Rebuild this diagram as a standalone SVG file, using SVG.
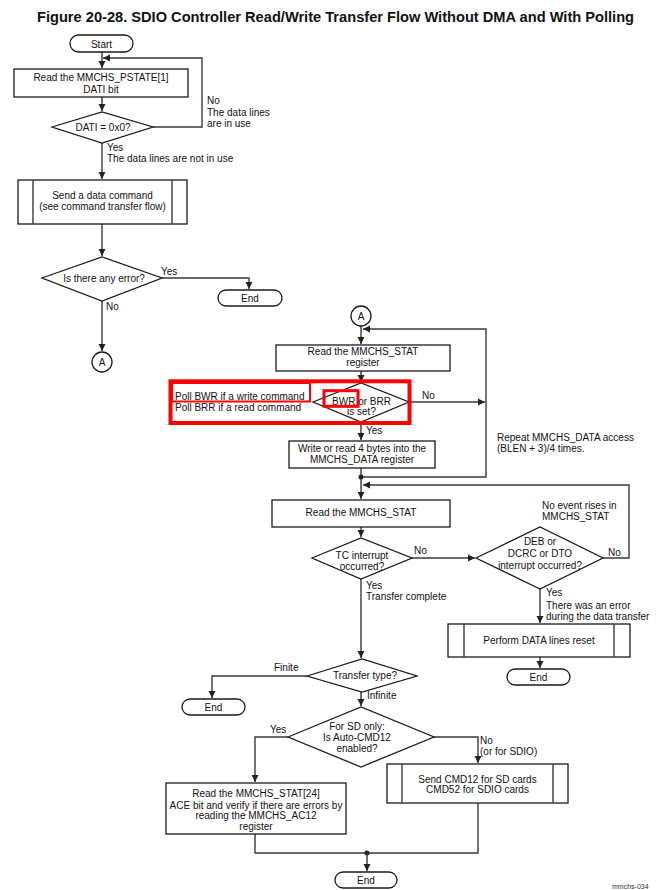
<svg xmlns="http://www.w3.org/2000/svg" width="669" height="890" viewBox="0 0 669 890">
<style>
.bx{fill:#fff;stroke:#1a1a1a;stroke-width:1.3}
.ln{fill:none;stroke:#3a3a3a;stroke-width:1.4}
.t{font-family:"Liberation Sans",Arial,sans-serif;font-size:10px;fill:#111}
.m{text-anchor:middle}
.red{fill:none;stroke:#ff0000}
.dot{fill:#222}
</style>
<defs>
<marker id="ar" markerWidth="8" markerHeight="8" refX="7" refY="4" orient="auto" markerUnits="userSpaceOnUse">
<path d="M0,0.5 L7,4 L0,7.5 z" fill="#222"/>
</marker>
</defs>
<rect width="669" height="890" fill="#fff"/>
<text x="37" y="22" font-family="Liberation Sans,Arial,sans-serif" font-size="14" font-weight="bold" fill="#111" textLength="597" lengthAdjust="spacingAndGlyphs">Figure 20-28. SDIO Controller Read/Write Transfer Flow Without DMA and With Polling</text>

<g id="connectors">
<path class="ln" d="M102,52 V68" marker-end="url(#ar)"/>
<path class="ln" d="M153,127 H202 V58 H103" marker-end="url(#ar)"/>
<path class="ln" d="M102,97 V111" marker-end="url(#ar)"/>
<path class="ln" d="M102,143 V179" marker-end="url(#ar)"/>
<path class="ln" d="M102,224 V256" marker-end="url(#ar)"/>
<path class="ln" d="M162,278 H249 V289" marker-end="url(#ar)"/>
<path class="ln" d="M102,301 V351" marker-end="url(#ar)"/>
<path class="ln" d="M361,326 V344" marker-end="url(#ar)"/>
<path class="ln" d="M361,477 H486 V329 H363" marker-end="url(#ar)"/>
<path class="ln" d="M361,371 V382" marker-end="url(#ar)"/>
<path class="ln" d="M409,402 H485" marker-end="url(#ar)"/>
<path class="ln" d="M361,422 V440" marker-end="url(#ar)"/>
<path class="ln" d="M361,468 V499" marker-end="url(#ar)"/>
<circle class="dot" cx="361" cy="477" r="2.5"/>
<path class="ln" d="M603,558 H629 V485 H363" marker-end="url(#ar)"/>
<path class="ln" d="M361,527 V537" marker-end="url(#ar)"/>
<path class="ln" d="M412,558 H475" marker-end="url(#ar)"/>
<path class="ln" d="M540,589 V623" marker-end="url(#ar)"/>
<path class="ln" d="M540,657 V668" marker-end="url(#ar)"/>
<path class="ln" d="M361,579 V658" marker-end="url(#ar)"/>
<path class="ln" d="M307,676 H212 V698" marker-end="url(#ar)"/>
<path class="ln" d="M361,692 V706" marker-end="url(#ar)"/>
<path class="ln" d="M288,737 H255 V782" marker-end="url(#ar)"/>
<path class="ln" d="M434,737 H478 V763" marker-end="url(#ar)"/>
<path class="ln" d="M255,834 V853 H478 V803"/>
<circle class="dot" cx="367" cy="853" r="2.5"/>
<path class="ln" d="M367,853 V871" marker-end="url(#ar)"/>
</g>

<g id="start">
<rect class="bx" x="70" y="35" width="63" height="17" rx="8.5"/>
<text class="t m" x="101.5" y="47.5">Start</text>
</g>
<g id="read-pstate">
<rect class="bx" x="14" y="69" width="174" height="28"/>
<text class="t m" x="101" y="81">Read the MMCHS_PSTATE[1]</text>
<text class="t m" x="101" y="93">DATI bit</text>
</g>
<g id="dati-decision">
<polygon class="bx" points="52,127 102,112 153,127 102,143"/>
<text class="t m" x="103" y="131">DATI = 0x0?</text>
<text class="t" x="207" y="104">No</text>
<text class="t" x="207" y="115.5">The data lines</text>
<text class="t" x="207" y="126.5">are in use</text>
<text class="t" x="107" y="151">Yes</text>
<text class="t" x="107" y="161.5">The data lines are not in use</text>
</g>
<g id="send-data-cmd">
<rect class="bx" x="18" y="180" width="169" height="44"/>
<path class="ln" d="M33,180 V224 M172,180 V224" stroke="#1a1a1a"/>
<text class="t m" x="102.5" y="199">Send a data command</text>
<text class="t m" x="102.5" y="209.5">(see command transfer flow)</text>
</g>
<g id="error-decision">
<polygon class="bx" points="42,278 102,257 162,278 102,301"/>
<text class="t m" x="104" y="281.5">Is there any error?</text>
<text class="t" x="161" y="274.5">Yes</text>
<text class="t" x="106" y="309.5">No</text>
</g>
<g id="end1">
<rect class="bx" x="218" y="290" width="64" height="16" rx="8"/>
<text class="t m" x="250" y="301.5">End</text>
</g>
<g id="conn-a-out">
<circle class="bx" cx="102" cy="362" r="10"/>
<text class="t m" x="102" y="366">A</text>
</g>
<g id="conn-a-in">
<circle class="bx" cx="361" cy="316" r="10"/>
<text class="t m" x="361" y="320">A</text>
</g>
<g id="read-stat1">
<rect class="bx" x="276" y="345" width="174" height="26"/>
<text class="t m" x="363" y="355">Read the MMCHS_STAT</text>
<text class="t m" x="363" y="366">register</text>
</g>
<g id="bwr-decision">
<polygon class="bx" points="313,402 361,383 409,402 361,422"/>
<text class="t m" x="361.5" y="404.5">BWR or BRR</text>
<text class="t m" x="361.5" y="415">is set?</text>
<text class="t" x="422" y="398.5">No</text>
<text class="t" x="366" y="433.5">Yes</text>
<text class="t" x="175" y="399.5">Poll BWR if a write command</text>
<text class="t" x="175" y="410.5">Poll BRR if a read command</text>
</g>
<g id="highlight">
<rect class="red" x="170.5" y="381.3" width="239" height="41.7" stroke-width="4"/>
<rect class="red" x="172" y="383" width="138" height="18.5" stroke-width="2"/>
<rect class="red" x="324" y="390.7" width="34" height="15.6" stroke-width="3"/>
</g>
<g id="write-read-data">
<rect class="bx" x="289" y="441" width="146" height="27"/>
<text class="t m" x="362" y="452">Write or read 4 bytes into the</text>
<text class="t m" x="362" y="462.5">MMCHS_DATA register</text>
</g>
<g id="repeat-note">
<text class="t" x="497" y="441">Repeat MMCHS_DATA access</text>
<text class="t" x="497" y="452">(BLEN + 3)/4 times.</text>
</g>
<g id="read-stat2">
<rect class="bx" x="272" y="500" width="178" height="27"/>
<text class="t m" x="361" y="516">Read the MMCHS_STAT</text>
</g>
<g id="tc-decision">
<polygon class="bx" points="312,558 361,538 412,558 361,579"/>
<text class="t m" x="362" y="558.5">TC interrupt</text>
<text class="t m" x="362" y="570">occurred?</text>
<text class="t" x="414" y="553.5">No</text>
<text class="t" x="366" y="588.5">Yes</text>
<text class="t" x="366" y="600">Transfer complete</text>
</g>
<g id="err-int-decision">
<polygon class="bx" points="476,558 540,527 603,558 540,589"/>
<text class="t m" x="540" y="545">DEB or</text>
<text class="t m" x="540" y="556.5">DCRC or DTO</text>
<text class="t m" x="540" y="568.5">interrupt occurred?</text>
<text class="t" x="542" y="508.5">No event rises in</text>
<text class="t" x="542" y="519.5">MMCHS_STAT</text>
<text class="t" x="608" y="556">No</text>
<text class="t" x="546" y="596">Yes</text>
<text class="t" x="546" y="608.5">There was an error</text>
<text class="t" x="546" y="619.5">during the data transfer</text>
</g>
<g id="data-reset">
<rect class="bx" x="448" y="624" width="182" height="33"/>
<path class="ln" d="M464,624 V657 M614,624 V657" stroke="#1a1a1a"/>
<text class="t m" x="539" y="644">Perform DATA lines reset</text>
</g>
<g id="end2">
<rect class="bx" x="507" y="669" width="63" height="16" rx="8"/>
<text class="t m" x="538.5" y="680.5">End</text>
</g>
<g id="transfer-type">
<polygon class="bx" points="307,676 362,659 417,676 362,692"/>
<text class="t m" x="365" y="678.5">Transfer type?</text>
<text class="t" x="274" y="670.5">Finite</text>
<text class="t" x="367" y="698.5">Infinite</text>
</g>
<g id="end3">
<rect class="bx" x="182" y="699" width="63" height="16" rx="8"/>
<text class="t m" x="213.5" y="710.5">End</text>
</g>
<g id="autocmd-decision">
<polygon class="bx" points="288,737 361,707 434,737 361,767"/>
<text class="t m" x="357" y="730">For SD only:</text>
<text class="t m" x="357" y="741">Is Auto-CMD12</text>
<text class="t m" x="357" y="752">enabled?</text>
<text class="t" x="270" y="732.5">Yes</text>
<text class="t" x="480" y="743.5">No</text>
<text class="t" x="480" y="755">(or for SDIO)</text>
</g>
<g id="read-ace">
<rect class="bx" x="166" y="783" width="180" height="51"/>
<text class="t m" x="256" y="797">Read the MMCHS_STAT[24]</text>
<text class="t m" x="256" y="808.5">ACE bit and verify if there are errors by</text>
<text class="t m" x="256" y="819">reading the MMCHS_AC12</text>
<text class="t m" x="256" y="830">register</text>
</g>
<g id="send-cmd12">
<rect class="bx" x="387" y="764" width="181" height="39"/>
<path class="ln" d="M402,764 V803 M553,764 V803" stroke="#1a1a1a"/>
<text class="t m" x="477.5" y="782.5">Send CMD12 for SD cards</text>
<text class="t m" x="477.5" y="793">CMD52 for SDIO cards</text>
</g>
<g id="end4">
<rect class="bx" x="335" y="872" width="62" height="16" rx="8"/>
<text class="t m" x="366" y="883.5">End</text>
</g>
<text x="612" y="888.5" font-family="Liberation Sans,Arial,sans-serif" font-size="7" fill="#333">mmchs-034</text>
</svg>
